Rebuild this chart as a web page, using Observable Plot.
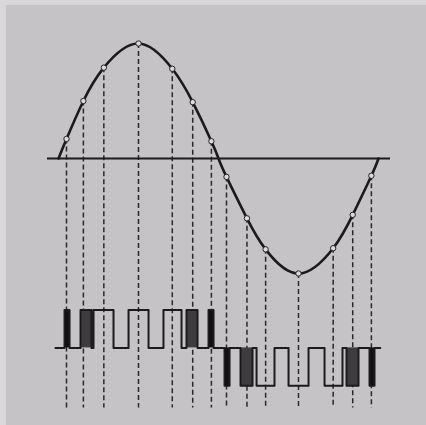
<!DOCTYPE html>
<html>
<head>
<meta charset="utf-8">
<script src="https://cdn.jsdelivr.net/npm/d3@7"></script>
<script src="https://cdn.jsdelivr.net/npm/@observablehq/plot@0.6"></script>
<style>
  html, body { margin: 0; padding: 0; background: #d8d6d8; }
  #chart svg { display: block; }
</style>
</head>
<body>
<div id="chart"></div>
<script>
// Sample points on the sine wave (phase in degrees, value relative to peak)
const sampleDeg = [9, 28, 51, 90, 128, 151, 172, 189, 212, 233, 270, 309, 331, 352];
const sampleVal = [0.17, 0.50, 0.79, 1.00, 0.78, 0.49, 0.15, -0.16, -0.52, -0.79, -1.00, -0.78, -0.49, -0.15];
// Zero crossings of the wave
const zeroDeg = [0, 180, 360];
// Pulse-width-modulated signal: pulse start / end (degrees) and polarity
const pulseStart = [6.8, 24.8, 39.4, 78.8, 118.1, 144.0, 168.8, 186.8, 204.8, 222.8, 258.8, 299.3, 324.0, 349.9];
const pulseEnd   = [12.4, 37.1, 61.9, 101.3, 138.4, 156.4, 174.4, 192.4, 218.3, 243.0, 281.3, 319.5, 337.5, 355.5];
const pulseSign  = [1, 1, 1, 1, 1, 1, 1, -1, -1, -1, -1, -1, -1, -1];
// Extents of the zero axis and the pulse train
const axisSpan = [-12.4, 373.5];
const pwmSpan = [-3.4, 362];

// layout
const pwmZero = -1.647, pwmAmp = 0.33, dashBottom = -2.17;
const py = (l) => pwmZero + l * pwmAmp;

const samples = sampleDeg.map((d, i) => ({x: d, y: sampleVal[i]}));
const curvePts = [...zeroDeg.map(d => ({x: d, y: 0})), ...samples].sort((a, b) => a.x - b.x);

const pwm = [{x: pwmSpan[0], y: py(0)}];
pulseStart.forEach((s, i) => {
  const e = pulseEnd[i], k = pulseSign[i];
  pwm.push({x: s, y: py(0)}, {x: s, y: py(k)}, {x: e, y: py(k)}, {x: e, y: py(0)});
});
pwm.push({x: pwmSpan[1], y: py(0)});

const pulses = pulseStart.map((s, i) => ({x1: s, x2: pulseEnd[i], y1: py(0), y2: py(pulseSign[i]), w: pulseEnd[i] - s}));
const narrow = pulses.filter(p => p.w < 8);
const medium = pulses.filter(p => p.w >= 8 && p.w < 16);

const chart = Plot.plot({
  width: 426,
  height: 425,
  margin: 0,
  x: {domain: [-65.25, 414], range: [0, 426], axis: null},
  y: {domain: [-2.3217, 1.3739], range: [425, 0], axis: null},
  style: {background: "#c6c3c6", boxShadow: "inset 6px 5px 0 #d9d7d9"},
  marks: [
    Plot.ruleX(samples, {x: "x", y1: "y", y2: dashBottom, stroke: "#2a282a", strokeWidth: 1.5, strokeDasharray: "5,3"}),
    Plot.ruleY([0], {x1: axisSpan[0], x2: axisSpan[1], stroke: "#1c1a1c", strokeWidth: 2}),
    Plot.line(curvePts, {x: "x", y: "y", curve: "natural", stroke: "#1c1a1c", strokeWidth: 2.6}),
    Plot.rect(medium, {x1: "x1", x2: "x2", y1: "y1", y2: "y2", fill: "#3e3c3e"}),
    Plot.rect(narrow, {x1: "x1", x2: "x2", y1: "y1", y2: "y2", fill: "#111"}),
    Plot.line(pwm, {x: "x", y: "y", curve: "linear", stroke: "#1c1a1c", strokeWidth: 2}),
    Plot.dot(samples, {x: "x", y: "y", r: 2.7, fill: "#dcdadc", stroke: "#222", strokeWidth: 1})
  ]
});
document.getElementById("chart").appendChild(chart);
</script>
</body>
</html>
